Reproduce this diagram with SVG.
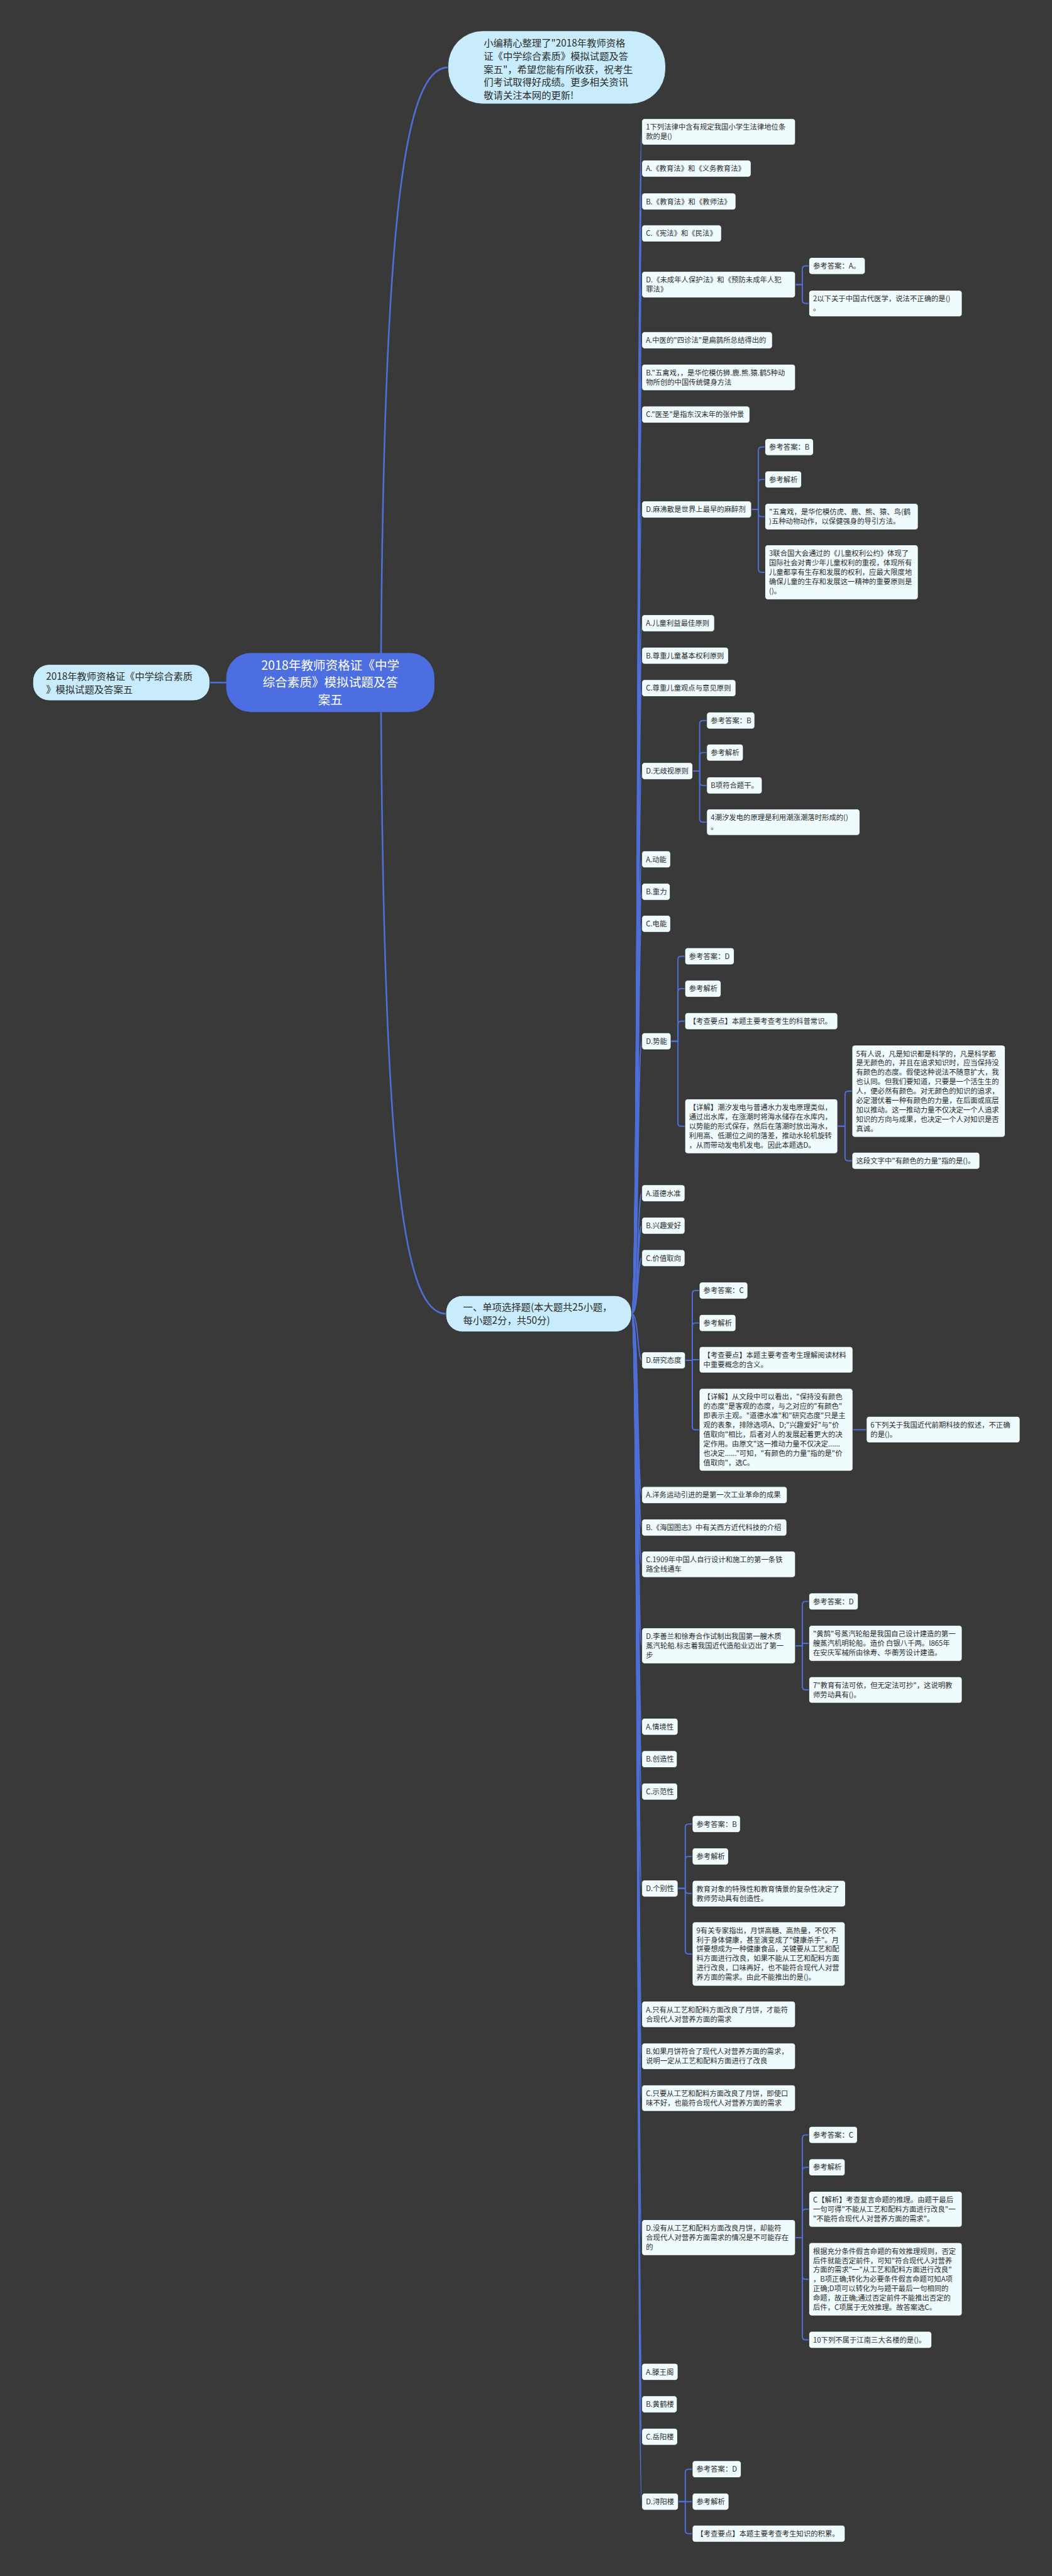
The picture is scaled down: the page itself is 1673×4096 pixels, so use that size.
<svg xmlns="http://www.w3.org/2000/svg" width="1673" height="4096" viewBox="0 0 1673 4096">
<style>
.b{fill:#f0fbfe;stroke:#222;stroke-width:1.2}
.t{font-family:"Noto Sans CJK SC","Noto Sans",sans-serif;font-size:17.4px;fill:#2b2b2b}
.l1{fill:#c8ecfb;stroke:#222;stroke-width:1.2}
.t1{font-family:"Noto Sans CJK SC","Noto Sans",sans-serif;font-size:23.5px;fill:#2b2b2b}
.c{fill:none;stroke:#4f6fd8;stroke-width:3}
.cm{fill:none;stroke:#4f6fd8;stroke-width:4}
</style>
<rect x="0" y="0" width="1673" height="4096" fill="#3a393a"/>
<g transform="scale(0.653)">
<g id="connectors">
<path class="cm" d="M928 1592 C935 500 990 164 1091 164"/>
<path class="cm" d="M928 1734 C935 2900 990 3199 1086 3199"/>
<path class="cm" d="M551 1662 L511 1662"/>
<g id="spine">
<path class="c" d="M1538 3199 C1556 3199 1552 321 1563 321"/>
<path class="c" d="M1538 3199 C1556 3199 1552 410.5 1563 410.5"/>
<path class="c" d="M1538 3199 C1556 3199 1552 490.5 1563 490.5"/>
<path class="c" d="M1538 3199 C1556 3199 1552 568.5 1563 568.5"/>
<path class="c" d="M1538 3199 C1556 3199 1552 693 1563 693"/>
<path class="c" d="M1538 3199 C1556 3199 1552 828.5 1563 828.5"/>
<path class="c" d="M1538 3199 C1556 3199 1552 919 1563 919"/>
<path class="c" d="M1538 3199 C1556 3199 1552 1009.5 1563 1009.5"/>
<path class="c" d="M1538 3199 C1556 3199 1552 1240.5 1563 1240.5"/>
<path class="c" d="M1538 3199 C1556 3199 1552 1517.5 1563 1517.5"/>
<path class="c" d="M1538 3199 C1556 3199 1552 1596.5 1563 1596.5"/>
<path class="c" d="M1538 3199 C1556 3199 1552 1675.5 1563 1675.5"/>
<path class="c" d="M1538 3199 C1556 3199 1552 1877.5 1563 1877.5"/>
<path class="c" d="M1538 3199 C1556 3199 1552 2092.5 1563 2092.5"/>
<path class="c" d="M1538 3199 C1556 3199 1552 2171.5 1563 2171.5"/>
<path class="c" d="M1538 3199 C1556 3199 1552 2249.5 1563 2249.5"/>
<path class="c" d="M1538 3199 C1556 3199 1552 2535.5 1563 2535.5"/>
<path class="c" d="M1538 3199 C1556 3199 1552 2905.5 1563 2905.5"/>
<path class="c" d="M1538 3199 C1556 3199 1552 2984.5 1563 2984.5"/>
<path class="c" d="M1538 3199 C1556 3199 1552 3063.5 1563 3063.5"/>
<path class="c" d="M1538 3199 C1556 3199 1552 3312.5 1563 3312.5"/>
<path class="c" d="M1538 3199 C1556 3199 1552 3640.5 1563 3640.5"/>
<path class="c" d="M1538 3199 C1556 3199 1552 3719.5 1563 3719.5"/>
<path class="c" d="M1538 3199 C1556 3199 1552 3809 1563 3809"/>
<path class="c" d="M1538 3199 C1556 3199 1552 4007.5 1563 4007.5"/>
<path class="c" d="M1538 3199 C1556 3199 1552 4204.5 1563 4204.5"/>
<path class="c" d="M1538 3199 C1556 3199 1552 4283.5 1563 4283.5"/>
<path class="c" d="M1538 3199 C1556 3199 1552 4362.5 1563 4362.5"/>
<path class="c" d="M1538 3199 C1556 3199 1552 4598.5 1563 4598.5"/>
<path class="c" d="M1538 3199 C1556 3199 1552 4905 1563 4905"/>
<path class="c" d="M1538 3199 C1556 3199 1552 5007 1563 5007"/>
<path class="c" d="M1538 3199 C1556 3199 1552 5109 1563 5109"/>
<path class="c" d="M1538 3199 C1556 3199 1552 5448.5 1563 5448.5"/>
<path class="c" d="M1538 3199 C1556 3199 1552 5775.5 1563 5775.5"/>
<path class="c" d="M1538 3199 C1556 3199 1552 5854.5 1563 5854.5"/>
<path class="c" d="M1538 3199 C1556 3199 1552 5933.5 1563 5933.5"/>
<path class="c" d="M1538 3199 C1556 3199 1552 6091.5 1563 6091.5"/>
</g>
<g id="elbows">
<path class="c" d="M1937 693 H1954 V655.5 Q1954 647.5 1962 647.5 H1970"/>
<path class="c" d="M1937 693 H1954 V731 Q1954 739 1962 739 H1970"/>
<path class="c" d="M1830 1240.5 H1847 V1096.5 Q1847 1088.5 1855 1088.5 H1863"/>
<path class="c" d="M1830 1240.5 H1847 V1175.5 Q1847 1167.5 1855 1167.5 H1863"/>
<path class="c" d="M1830 1240.5 H1847 V1250 Q1847 1258 1855 1258 H1863"/>
<path class="c" d="M1830 1240.5 H1847 V1385.5 Q1847 1393.5 1855 1393.5 H1863"/>
<path class="c" d="M1687 1877.5 H1704 V1762.5 Q1704 1754.5 1712 1754.5 H1721"/>
<path class="c" d="M1687 1877.5 H1704 V1840.5 Q1704 1832.5 1712 1832.5 H1721"/>
<path class="c" d="M1687 1877.5 H1704 V1904.5 Q1704 1912.5 1712 1912.5 H1721"/>
<path class="c" d="M1687 1877.5 H1704 V1994 Q1704 2002 1712 2002 H1721"/>
<path class="c" d="M1634 2535.5 H1651 V2336.5 Q1651 2328.5 1659 2328.5 H1668"/>
<path class="c" d="M1634 2535.5 H1651 V2415.5 Q1651 2407.5 1659 2407.5 H1668"/>
<path class="c" d="M1634 2535.5 H1651 V2494.5 Q1651 2486.5 1659 2486.5 H1668"/>
<path class="c" d="M1634 2535.5 H1651 V2734.5 Q1651 2742.5 1659 2742.5 H1668"/>
<path class="c" d="M2040 2742.5 H2058 V2665 Q2058 2657 2066 2657 H2075"/>
<path class="c" d="M2040 2742.5 H2058 V2818.5 Q2058 2826.5 2066 2826.5 H2075"/>
<path class="c" d="M1669 3312.5 H1686 V3150.5 Q1686 3142.5 1694 3142.5 H1703"/>
<path class="c" d="M1669 3312.5 H1686 V3229.5 Q1686 3221.5 1694 3221.5 H1703"/>
<path class="c" d="M1669 3312.5 H1686 V3311 H1703"/>
<path class="c" d="M1669 3312.5 H1686 V3473.5 Q1686 3481.5 1694 3481.5 H1703"/>
<path class="c" d="M2077 3481.5 H2110"/>
<path class="c" d="M1937 4007.5 H1954 V3907.5 Q1954 3899.5 1962 3899.5 H1970"/>
<path class="c" d="M1937 4007.5 H1954 V4001.5 H1970"/>
<path class="c" d="M1937 4007.5 H1954 V4107 Q1954 4115 1962 4115 H1970"/>
<path class="c" d="M1651 4598.5 H1669 V4449.5 Q1669 4441.5 1677 4441.5 H1686"/>
<path class="c" d="M1651 4598.5 H1669 V4528.5 Q1669 4520.5 1677 4520.5 H1686"/>
<path class="c" d="M1651 4598.5 H1669 V4602.5 Q1669 4610.5 1677 4610.5 H1686"/>
<path class="c" d="M1651 4598.5 H1669 V4750 Q1669 4758 1677 4758 H1686"/>
<path class="c" d="M1937 5448.5 H1954 V5206.5 Q1954 5198.5 1962 5198.5 H1970"/>
<path class="c" d="M1937 5448.5 H1954 V5285.5 Q1954 5277.5 1962 5277.5 H1970"/>
<path class="c" d="M1937 5448.5 H1954 V5387.5 Q1954 5379.5 1962 5379.5 H1970"/>
<path class="c" d="M1937 5448.5 H1954 V5542 Q1954 5550 1962 5550 H1970"/>
<path class="c" d="M1937 5448.5 H1954 V5689.5 Q1954 5697.5 1962 5697.5 H1970"/>
<path class="c" d="M1652 6091.5 H1669 V6020.5 Q1669 6012.5 1677 6012.5 H1686"/>
<path class="c" d="M1652 6091.5 H1686"/>
<path class="c" d="M1652 6091.5 H1669 V6161.5 Q1669 6169.5 1677 6169.5 H1686"/>
</g>
</g>

<g id="root"><rect x="551" y="1590" width="507" height="144" rx="60" fill="#4c6ee0"/>
<text font-family="Noto Sans CJK SC, sans-serif" font-size="30" fill="#ffffff" text-anchor="middle"><tspan x="804.5" y="1631">2018年教师资格证《中学</tspan><tspan x="804.5" y="1673">综合素质》模拟试题及答</tspan><tspan x="804.5" y="1715">案五</tspan></text></g>
<g id="left"><rect class="l1" x="80" y="1618" width="431" height="88" rx="40"/>
<text class="t1"><tspan x="112" y="1655">2018年教师资格证《中学综合素质</tspan><tspan x="112" y="1687">》模拟试题及答案五</tspan></text></g>
<g id="intro"><rect class="l1" x="1091" y="75" width="530" height="178" rx="85"/>
<text class="t1"><tspan x="1178" y="114">小编精心整理了"2018年教师资格</tspan><tspan x="1178" y="146">证《中学综合素质》模拟试题及答</tspan><tspan x="1178" y="177">案五"，希望您能有所收获，祝考生</tspan><tspan x="1178" y="209">们考试取得好成绩。更多相关资讯</tspan><tspan x="1178" y="241">敬请关注本网的更新!</tspan></text></g>
<g id="section"><rect class="l1" x="1086" y="3155" width="452" height="88" rx="40"/>
<text class="t1"><tspan x="1128" y="3192">一、单项选择题(本大题共25小题，</tspan><tspan x="1128" y="3224">每小题2分，共50分)</tspan></text></g>

<g id="q1"><rect class="b" x="1563" y="289" width="374" height="64" rx="7"/><text class="t"><tspan x="1573" y="316">1下列法律中含有规定我国小学生法律地位条</tspan><tspan x="1573" y="338.8">款的是()</tspan></text></g>
<g id="q1a"><rect class="b" x="1563" y="390" width="266" height="41" rx="7"/><text class="t" x="1573" y="417">A.《教育法》和《义务教育法》</text></g>
<g id="q1b"><rect class="b" x="1563" y="470" width="229" height="41" rx="7"/><text class="t" x="1573" y="497">B.《教育法》和《教师法》</text></g>
<g id="q1c"><rect class="b" x="1563" y="548" width="194" height="41" rx="7"/><text class="t" x="1573" y="575">C.《宪法》和《民法》</text></g>
<g id="q1d"><rect class="b" x="1563" y="661" width="374" height="64" rx="7"/><text class="t"><tspan x="1573" y="688">D.《未成年人保护法》和《预防未成年人犯</tspan><tspan x="1573" y="710.8">罪法》</tspan></text></g>
<g id="q1ans"><rect class="b" x="1970" y="627" width="137" height="41" rx="7"/><text class="t" x="1980" y="654">参考答案：A。</text></g>
<g id="q2"><rect class="b" x="1970" y="707" width="373" height="64" rx="7"/><text class="t"><tspan x="1980" y="734">2以下关于中国古代医学，说法不正确的是()</tspan><tspan x="1980" y="756.8">。</tspan></text></g>
<g id="q2a"><rect class="b" x="1563" y="808" width="318" height="41" rx="7"/><text class="t" x="1573" y="835">A.中医的"四诊法"是扁鹊所总结得出的</text></g>
<g id="q2b"><rect class="b" x="1563" y="887" width="374" height="64" rx="7"/><text class="t"><tspan x="1573" y="914">B."五禽戏，，是华佗模仿狮.鹿.熊.猿.鹤5种动</tspan><tspan x="1573" y="936.8">物所创的中国传统健身方法</tspan></text></g>
<g id="q2c"><rect class="b" x="1563" y="989" width="263" height="41" rx="7"/><text class="t" x="1573" y="1016">C."医圣"是指东汉末年的张仲景</text></g>
<g id="q2d"><rect class="b" x="1563" y="1220" width="267" height="41" rx="7"/><text class="t" x="1573" y="1247">D.麻沸散是世界上最早的麻醉剂</text></g>
<g id="q2ans"><rect class="b" x="1863" y="1068" width="118" height="41" rx="7"/><text class="t" x="1873" y="1095">参考答案：B</text></g>
<g id="q2ref"><rect class="b" x="1863" y="1147" width="89" height="41" rx="7"/><text class="t" x="1873" y="1174">参考解析</text></g>
<g id="q2exp"><rect class="b" x="1863" y="1226" width="373" height="64" rx="7"/><text class="t"><tspan x="1873" y="1253">"五禽戏，是华佗模仿虎、鹿、熊、猿、鸟(鹤</tspan><tspan x="1873" y="1275.8">)五种动物动作，以保健强身的导引方法。</tspan></text></g>
<g id="q3"><rect class="b" x="1863" y="1327" width="373" height="133" rx="7"/><text class="t"><tspan x="1873" y="1354">3联合国大会通过的《儿童权利公约》体现了</tspan><tspan x="1873" y="1376.8">国际社会对青少年儿童权利的重视，体现所有</tspan><tspan x="1873" y="1399.6">儿童都享有生存和发展的权利，应最大限度地</tspan><tspan x="1873" y="1422.4">确保儿童的生存和发展这一精神的重要原则是</tspan><tspan x="1873" y="1445.2">()。</tspan></text></g>
<g id="q3a"><rect class="b" x="1563" y="1497" width="177" height="41" rx="7"/><text class="t" x="1573" y="1524">A.儿童利益最佳原则</text></g>
<g id="q3b"><rect class="b" x="1563" y="1576" width="211" height="41" rx="7"/><text class="t" x="1573" y="1603">B.尊重儿童基本权利原则</text></g>
<g id="q3c"><rect class="b" x="1563" y="1655" width="229" height="41" rx="7"/><text class="t" x="1573" y="1682">C.尊重儿童观点与意见原则</text></g>
<g id="q3d"><rect class="b" x="1563" y="1857" width="124" height="41" rx="7"/><text class="t" x="1573" y="1884">D.无歧视原则</text></g>
<g id="q3ans"><rect class="b" x="1721" y="1734" width="117" height="41" rx="7"/><text class="t" x="1731" y="1761">参考答案：B</text></g>
<g id="q3ref"><rect class="b" x="1721" y="1812" width="89" height="41" rx="7"/><text class="t" x="1731" y="1839">参考解析</text></g>
<g id="q3exp"><rect class="b" x="1721" y="1892" width="135" height="41" rx="7"/><text class="t" x="1731" y="1919">B项符合题干。</text></g>
<g id="q4"><rect class="b" x="1721" y="1970" width="373" height="64" rx="7"/><text class="t"><tspan x="1731" y="1997">4潮汐发电的原理是利用潮涨潮落时形成的()</tspan><tspan x="1731" y="2019.8">。</tspan></text></g>
<g id="q4a"><rect class="b" x="1563" y="2072" width="70" height="41" rx="7"/><text class="t" x="1573" y="2099">A.动能</text></g>
<g id="q4b"><rect class="b" x="1563" y="2151" width="69" height="41" rx="7"/><text class="t" x="1573" y="2178">B.重力</text></g>
<g id="q4c"><rect class="b" x="1563" y="2229" width="70" height="41" rx="7"/><text class="t" x="1573" y="2256">C.电能</text></g>
<g id="q4d"><rect class="b" x="1563" y="2515" width="71" height="41" rx="7"/><text class="t" x="1573" y="2542">D.势能</text></g>
<g id="q4ans"><rect class="b" x="1668" y="2308" width="120" height="41" rx="7"/><text class="t" x="1678" y="2335">参考答案：D</text></g>
<g id="q4ref"><rect class="b" x="1668" y="2387" width="88" height="41" rx="7"/><text class="t" x="1678" y="2414">参考解析</text></g>
<g id="q4key"><rect class="b" x="1668" y="2466" width="372" height="41" rx="7"/><text class="t" x="1678" y="2493">【考查要点】本题主要考查考生的科普常识。</text></g>
<g id="q4exp"><rect class="b" x="1668" y="2676" width="372" height="133" rx="7"/><text class="t"><tspan x="1678" y="2703">【详解】潮汐发电与普通水力发电原理类似，</tspan><tspan x="1678" y="2725.8">通过出水库，在涨潮时将海水储存在水库内，</tspan><tspan x="1678" y="2748.6">以势能的形式保存，然后在落潮时放出海水，</tspan><tspan x="1678" y="2771.4">利用高、低潮位之间的落差，推动水轮机旋转</tspan><tspan x="1678" y="2794.2">，从而带动发电机发电。因此本题选D。</tspan></text></g>
<g id="q5"><rect class="b" x="2075" y="2545" width="373" height="224" rx="7"/><text class="t"><tspan x="2085" y="2572">5有人说，凡是知识都是科学的，凡是科学都</tspan><tspan x="2085" y="2594.8">是无颜色的，并且在追求知识时，应当保持没</tspan><tspan x="2085" y="2617.6">有颜色的态度。假使这种说法不随意扩大，我</tspan><tspan x="2085" y="2640.4">也认同。但我们要知道，只要是一个活生生的</tspan><tspan x="2085" y="2663.2">人，便必然有颜色。对无颜色的知识的追求，</tspan><tspan x="2085" y="2686">必定潜伏着一种有颜色的力量，在后面或底层</tspan><tspan x="2085" y="2708.8">加以推动。这一推动力量不仅决定一个人追求</tspan><tspan x="2085" y="2731.6">知识的方向与成果，也决定一个人对知识是否</tspan><tspan x="2085" y="2754.4">真诚。</tspan></text></g>
<g id="q5q"><rect class="b" x="2075" y="2806" width="311" height="41" rx="7"/><text class="t" x="2085" y="2833">这段文字中"有颜色的力量"指的是()。</text></g>
<g id="q5a"><rect class="b" x="1563" y="2885" width="105" height="41" rx="7"/><text class="t" x="1573" y="2912">A.道德水准</text></g>
<g id="q5b"><rect class="b" x="1563" y="2964" width="105" height="41" rx="7"/><text class="t" x="1573" y="2991">B.兴趣爱好</text></g>
<g id="q5c"><rect class="b" x="1563" y="3043" width="105" height="41" rx="7"/><text class="t" x="1573" y="3070">C.价值取向</text></g>
<g id="q5d"><rect class="b" x="1563" y="3292" width="106" height="41" rx="7"/><text class="t" x="1573" y="3319">D.研究态度</text></g>
<g id="q5ans"><rect class="b" x="1703" y="3122" width="118" height="41" rx="7"/><text class="t" x="1713" y="3149">参考答案：C</text></g>
<g id="q5ref"><rect class="b" x="1703" y="3201" width="89" height="41" rx="7"/><text class="t" x="1713" y="3228">参考解析</text></g>
<g id="q5key"><rect class="b" x="1703" y="3279" width="374" height="64" rx="7"/><text class="t"><tspan x="1713" y="3306">【考查要点】本题主要考查考生理解阅读材料</tspan><tspan x="1713" y="3328.8">中重要概念的含义。</tspan></text></g>
<g id="q5exp"><rect class="b" x="1703" y="3381" width="374" height="201" rx="7"/><text class="t"><tspan x="1713" y="3408">【详解】从文段中可以看出，"保持没有颜色</tspan><tspan x="1713" y="3430.8">的态度"是客观的态度，与之对应的"有颜色"</tspan><tspan x="1713" y="3453.6">即表示主观。"道德水准"和"研究态度"只是主</tspan><tspan x="1713" y="3476.4">观的表象，排除选项A、D;"兴趣爱好"与"价</tspan><tspan x="1713" y="3499.2">值取向"相比，后者对人的发展起着更大的决</tspan><tspan x="1713" y="3522">定作用。由原文"这一推动力量不仅决定......</tspan><tspan x="1713" y="3544.8">也决定......"可知，"有颜色的力量"指的是"价</tspan><tspan x="1713" y="3567.6">值取向"，选C。</tspan></text></g>
<g id="q6"><rect class="b" x="2110" y="3449" width="374" height="64" rx="7"/><text class="t"><tspan x="2120" y="3476">6下列关于我国近代前期科技的叙述，不正确</tspan><tspan x="2120" y="3498.8">的是()。</tspan></text></g>
<g id="q6a"><rect class="b" x="1563" y="3620" width="354" height="41" rx="7"/><text class="t" x="1573" y="3647">A.洋务运动引进的是第一次工业革命的成果</text></g>
<g id="q6b"><rect class="b" x="1563" y="3699" width="353" height="41" rx="7"/><text class="t" x="1573" y="3726">B.《海国图志》中有关西方近代科技的介绍</text></g>
<g id="q6c"><rect class="b" x="1563" y="3777" width="374" height="64" rx="7"/><text class="t"><tspan x="1573" y="3804">C.1909年中国人自行设计和施工的第一条铁</tspan><tspan x="1573" y="3826.8">路全线通车</tspan></text></g>
<g id="q6d"><rect class="b" x="1563" y="3964" width="374" height="87" rx="7"/><text class="t"><tspan x="1573" y="3991">D.李善兰和徐寿合作试制出我国第一艘木质</tspan><tspan x="1573" y="4013.8">蒸汽轮船.标志着我国近代造船业迈出了第一</tspan><tspan x="1573" y="4036.6">步</tspan></text></g>
<g id="q6ans"><rect class="b" x="1970" y="3879" width="120" height="41" rx="7"/><text class="t" x="1980" y="3906">参考答案：D</text></g>
<g id="q6exp"><rect class="b" x="1970" y="3958" width="373" height="87" rx="7"/><text class="t"><tspan x="1980" y="3985">"黄鹄"号蒸汽轮船是我国自己设计建造的第一</tspan><tspan x="1980" y="4007.8">艘蒸汽机明轮船。造价 白银八千两。l865年</tspan><tspan x="1980" y="4030.6">在安庆军械所由徐寿、华蘅芳设计建造。</tspan></text></g>
<g id="q7"><rect class="b" x="1970" y="4083" width="373" height="64" rx="7"/><text class="t"><tspan x="1980" y="4110">7"教育有法可依，但无定法可抄"，这说明教</tspan><tspan x="1980" y="4132.8">师劳动具有()。</tspan></text></g>
<g id="q7a"><rect class="b" x="1563" y="4184" width="88" height="41" rx="7"/><text class="t" x="1573" y="4211">A.情境性</text></g>
<g id="q7b"><rect class="b" x="1563" y="4263" width="86" height="41" rx="7"/><text class="t" x="1573" y="4290">B.创造性</text></g>
<g id="q7c"><rect class="b" x="1563" y="4342" width="87" height="41" rx="7"/><text class="t" x="1573" y="4369">C.示范性</text></g>
<g id="q7d"><rect class="b" x="1563" y="4578" width="88" height="41" rx="7"/><text class="t" x="1573" y="4605">D.个别性</text></g>
<g id="q7ans"><rect class="b" x="1686" y="4421" width="117" height="41" rx="7"/><text class="t" x="1696" y="4448">参考答案：B</text></g>
<g id="q7ref"><rect class="b" x="1686" y="4500" width="88" height="41" rx="7"/><text class="t" x="1696" y="4527">参考解析</text></g>
<g id="q7exp"><rect class="b" x="1686" y="4579" width="373" height="64" rx="7"/><text class="t"><tspan x="1696" y="4606">教育对象的特殊性和教育情景的复杂性决定了</tspan><tspan x="1696" y="4628.8">教师劳动具有创造性。</tspan></text></g>
<g id="q9"><rect class="b" x="1686" y="4680" width="372" height="156" rx="7"/><text class="t"><tspan x="1696" y="4707">9有关专家指出，月饼高糖、高热量，不仅不</tspan><tspan x="1696" y="4729.8">利于身体健康，甚至演变成了"健康杀手"。月</tspan><tspan x="1696" y="4752.6">饼要想成为一种健康食品，关键要从工艺和配</tspan><tspan x="1696" y="4775.4">料方面进行改良，如果不能从工艺和配料方面</tspan><tspan x="1696" y="4798.2">进行改良，口味再好，也不能符合现代人对营</tspan><tspan x="1696" y="4821">养方面的需求。由此不能推出的是()。</tspan></text></g>
<g id="q9a"><rect class="b" x="1563" y="4873" width="374" height="64" rx="7"/><text class="t"><tspan x="1573" y="4900">A.只有从工艺和配料方面改良了月饼，才能符</tspan><tspan x="1573" y="4922.8">合现代人对营养方面的需求</tspan></text></g>
<g id="q9b"><rect class="b" x="1563" y="4975" width="374" height="64" rx="7"/><text class="t"><tspan x="1573" y="5002">B.如果月饼符合了现代人对营养方面的需求，</tspan><tspan x="1573" y="5024.8">说明一定从工艺和配料方面进行了改良</tspan></text></g>
<g id="q9c"><rect class="b" x="1563" y="5077" width="374" height="64" rx="7"/><text class="t"><tspan x="1573" y="5104">C.只要从工艺和配料方面改良了月饼，即使口</tspan><tspan x="1573" y="5126.8">味不好，也能符合现代人对营养方面的需求</tspan></text></g>
<g id="q9d"><rect class="b" x="1563" y="5405" width="374" height="87" rx="7"/><text class="t"><tspan x="1573" y="5432">D.没有从工艺和配料方面改良月饼，却能符</tspan><tspan x="1573" y="5454.8">合现代人对营养方面需求的情况是不可能存在</tspan><tspan x="1573" y="5477.6">的</tspan></text></g>
<g id="q9ans"><rect class="b" x="1970" y="5178" width="118" height="41" rx="7"/><text class="t" x="1980" y="5205">参考答案：C</text></g>
<g id="q9ref"><rect class="b" x="1970" y="5257" width="88" height="41" rx="7"/><text class="t" x="1980" y="5284">参考解析</text></g>
<g id="q9exp1"><rect class="b" x="1970" y="5336" width="373" height="87" rx="7"/><text class="t"><tspan x="1980" y="5363">C【解析】考查复言命题的推理。由题干最后</tspan><tspan x="1980" y="5385.8">一句可得"不能从工艺和配料方面进行改良"一</tspan><tspan x="1980" y="5408.6">"不能符合现代人对营养方面的需求"。</tspan></text></g>
<g id="q9exp2"><rect class="b" x="1970" y="5461" width="373" height="178" rx="7"/><text class="t"><tspan x="1980" y="5488">根据充分条件假言命题的有效推理规则，否定</tspan><tspan x="1980" y="5510.8">后件就能否定前件，可知"符合现代人对营养</tspan><tspan x="1980" y="5533.6">方面的需求"一"从工艺和配料方面进行改良"</tspan><tspan x="1980" y="5556.4">，B项正确;转化为必要条件假言命题可知A项</tspan><tspan x="1980" y="5579.2">正确;D项可以转化为与题干最后一句相同的</tspan><tspan x="1980" y="5602">命题，故正确;通过否定前件不能推出否定的</tspan><tspan x="1980" y="5624.8">后件，C项属于无效推理。故答案选C。</tspan></text></g>
<g id="q10"><rect class="b" x="1970" y="5677" width="299" height="41" rx="7"/><text class="t" x="1980" y="5704">10下列不属于江南三大名楼的是()。</text></g>
<g id="q10a"><rect class="b" x="1563" y="5755" width="88" height="41" rx="7"/><text class="t" x="1573" y="5782">A.滕王阁</text></g>
<g id="q10b"><rect class="b" x="1563" y="5834" width="86" height="41" rx="7"/><text class="t" x="1573" y="5861">B.黄鹤楼</text></g>
<g id="q10c"><rect class="b" x="1563" y="5913" width="87" height="41" rx="7"/><text class="t" x="1573" y="5940">C.岳阳楼</text></g>
<g id="q10d"><rect class="b" x="1563" y="6071" width="89" height="41" rx="7"/><text class="t" x="1573" y="6098">D.浔阳楼</text></g>
<g id="q10ans"><rect class="b" x="1686" y="5992" width="119" height="41" rx="7"/><text class="t" x="1696" y="6019">参考答案：D</text></g>
<g id="q10ref"><rect class="b" x="1686" y="6071" width="89" height="41" rx="7"/><text class="t" x="1696" y="6098">参考解析</text></g>
<g id="q10key"><rect class="b" x="1686" y="6149" width="372" height="41" rx="7"/><text class="t" x="1696" y="6176">【考查要点】本题主要考查考生知识的积累。</text></g>
</g>
</svg>
